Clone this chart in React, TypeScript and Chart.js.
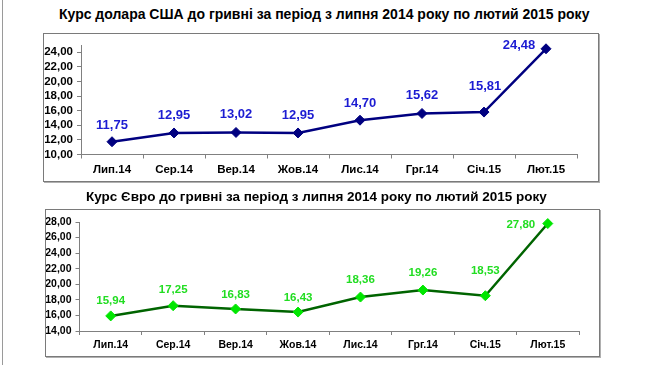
import React, { useEffect, useRef } from "react";
import { Chart, registerables } from "chart.js";

Chart.register(...registerables);

const categories = ["Лип.14", "Сер.14", "Вер.14", "Жов.14", "Лис.14", "Грг.14", "Січ.15", "Лют.15"];
const usdValues = [11.75, 12.95, 13.02, 12.95, 14.7, 15.62, 15.81, 24.48];
const eurValues = [15.94, 17.25, 16.83, 16.43, 18.36, 19.26, 18.53, 27.8];
const usdTitle = "Курс долара США до гривні за період з липня 2014 року по лютий 2015 року";
const eurTitle = "Курс Євро до гривні за період з липня 2014 року по лютий 2015 року";
const usdTicks = [10, 12, 14, 16, 18, 20, 22, 24];
const eurTicks = [14, 16, 18, 20, 22, 24, 26, 28];
const usdRange = { min: 10, max: 25 };
const eurRange = { min: 14, max: 28 };

// label placement offsets (dx, dy) relative to each point
const usdLabelOffsets = [[0, -16], [0, -18], [0, -18], [0, -18], [0, -17], [0, -18], [1, -26], [-27, -3]];
const eurLabelOffsets = [[0, -15], [0, -16], [0, -14], [0, -14], [0, -17], [0, -17], [0, -25], [-27, 1]];

const FONT = "'Liberation Sans', Arial, sans-serif";
const fmt = (v: number) => v.toFixed(2).replace(".", ",");

type Cfg = {
  values: number[];
  range: { min: number; max: number };
  ticks: number[];
  offsets: number[][];
  lineColor: string;
  markerColor: string;
  labelColor: string;
  labelSize: number;
  tickSize: number;
  catSize: number;
  width: number;
  height: number;
  yWidth: number;
  xHeight: number;
  padTop: number;
  padRight: number;
};

function LineBox({ cfg, left, top }: { cfg: Cfg; left: number; top: number }) {
  const ref = useRef<HTMLCanvasElement>(null);
  useEffect(() => {
    if (!ref.current) return;
    const labelPlugin = {
      id: "valueLabels",
      afterDatasetsDraw(chart: any) {
        const ctx = chart.ctx;
        const meta = chart.getDatasetMeta(0);
        ctx.save();
        ctx.font = `bold ${cfg.labelSize}px ${FONT}`;
        ctx.fillStyle = cfg.labelColor;
        ctx.textAlign = "center";
        ctx.textBaseline = "middle";
        meta.data.forEach((pt: any, i: number) => {
          const o = cfg.offsets[i] || [0, -16];
          ctx.fillText(fmt(cfg.values[i]), pt.x + o[0], pt.y + o[1]);
        });
        ctx.restore();
      },
    };
    const chart = new Chart(ref.current, {
      type: "line",
      data: {
        labels: categories,
        datasets: [
          {
            data: cfg.values,
            borderColor: cfg.lineColor,
            borderWidth: 2.5,
            pointStyle: "rectRot",
            pointRadius: 5,
            pointBackgroundColor: cfg.markerColor,
            pointBorderColor: cfg.markerColor,
            pointBorderWidth: 1,
            tension: 0,
            clip: false,
          },
        ],
      },
      options: {
        responsive: false,
        animation: false,
        events: [],
        layout: { padding: { top: cfg.padTop, right: cfg.padRight, left: 0, bottom: 0 } },
        plugins: { legend: { display: false }, tooltip: { enabled: false }, title: { display: false } },
        scales: {
          x: {
            type: "category",
            offset: true,
            grid: { offset: true, drawOnChartArea: false, drawTicks: true, tickLength: 4, color: "#808080" },
            border: { color: "#808080", width: 1 },
            ticks: {
              color: "#000",
              font: { family: FONT, size: cfg.catSize, weight: "bold" },
              padding: 4,
              maxRotation: 0,
              autoSkip: false,
            },
            afterFit: (s: any) => {
              s.height = cfg.xHeight;
            },
          },
          y: {
            min: cfg.range.min,
            max: cfg.range.max,
            grid: { drawOnChartArea: false, drawTicks: true, tickLength: 4, color: "#808080" },
            border: { color: "#808080", width: 1 },
            ticks: {
              color: "#000",
              font: { family: FONT, size: cfg.tickSize, weight: "bold" },
              padding: 4,
              autoSkip: false,
              callback: (v: any) => fmt(Number(v)),
            },
            afterBuildTicks: (s: any) => {
              s.ticks = cfg.ticks.map((v) => ({ value: v }));
            },
            afterFit: (s: any) => {
              s.width = cfg.yWidth;
            },
          },
        },
      } as any,
      plugins: [labelPlugin],
    });
    return () => chart.destroy();
  }, []);
  return (
    <>
      <canvas
        ref={ref}
        width={cfg.width}
        height={cfg.height}
        style={{ position: "absolute", left, top, width: cfg.width, height: cfg.height }}
      />
      <div
        style={{
          position: "absolute",
          left,
          top,
          width: cfg.width,
          height: cfg.height,
          boxSizing: "border-box",
          border: "1px solid #7a7a7a",
          boxShadow: "1px 1px 0 #b0b0b0",
          pointerEvents: "none",
        }}
      />
    </>
  );
}

export default function App() {
  const usdCfg: Cfg = {
    values: usdValues,
    range: usdRange,
    ticks: usdTicks,
    offsets: usdLabelOffsets,
    lineColor: "#000080",
    markerColor: "#000080",
    labelColor: "#1c1cd2",
    labelSize: 13,
    tickSize: 11.5,
    catSize: 11.5,
    width: 556,
    height: 149,
    yWidth: 38,
    xHeight: 27.5,
    padTop: 12,
    padRight: 22,
  };
  const eurCfg: Cfg = {
    values: eurValues,
    range: eurRange,
    ticks: eurTicks,
    offsets: eurLabelOffsets,
    lineColor: "#006400",
    markerColor: "#00e600",
    labelColor: "#22dd22",
    labelSize: 11.5,
    tickSize: 10.5,
    catSize: 10.5,
    width: 555,
    height: 148,
    yWidth: 34.5,
    xHeight: 26,
    padTop: 13,
    padRight: 21,
  };
  const titleStyle: React.CSSProperties = {
    position: "absolute",
    fontFamily: FONT,
    fontWeight: "bold",
    whiteSpace: "nowrap",
    color: "#000",
    lineHeight: "16px",
  };
  return (
    <div style={{ position: "absolute", left: 0, top: 0, width: 650, height: 365, background: "#fff", overflow: "hidden" }}>
      <div style={{ position: "absolute", left: 2, top: 0, width: 1, height: 365, background: "#9a9a9a" }} />
      <div style={{ ...titleStyle, fontSize: 14, left: 59, top: 6 }}>{usdTitle}</div>
      <LineBox cfg={usdCfg} left={43} top={33} />
      <div style={{ ...titleStyle, fontSize: 13.5, left: 86, top: 189 }}>{eurTitle}</div>
      <LineBox cfg={eurCfg} left={45} top={209} />
    </div>
  );
}
